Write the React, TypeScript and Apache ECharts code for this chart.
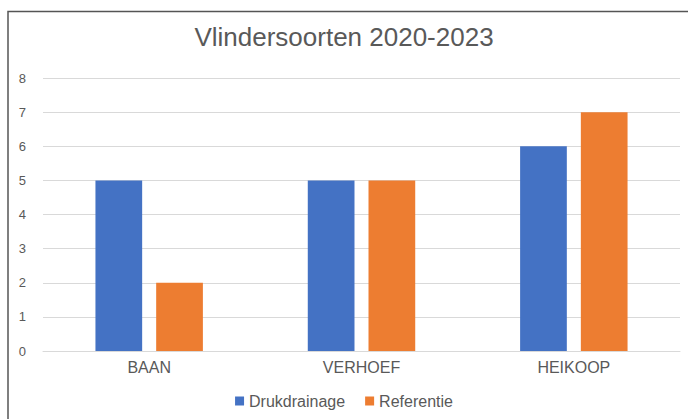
import React, { useEffect, useRef } from "react";
import * as echarts from "echarts";

const titleText = "Vlindersoorten 2020-2023";
const categories = ["BAAN", "VERHOEF", "HEIKOOP"];
const seriesNames = ["Drukdrainage", "Referentie"];
const drukdrainage = [5, 5, 6];
const referentie = [2, 5, 7];
const colors = ["#4472C4", "#ED7D31"];

export default function App() {
  const ref = useRef<HTMLDivElement>(null);
  useEffect(() => {
    if (!ref.current) return;
    const chart = echarts.init(ref.current, undefined, { renderer: "svg" });
    const font = "'Liberation Sans', Arial, sans-serif";
    chart.setOption({
      animation: false,
      backgroundColor: "#ffffff",
      textStyle: { fontFamily: font },
      title: {
        text: titleText,
        left: "center",
        top: 19,
        textStyle: { fontSize: 26, fontWeight: "normal", color: "#595959", fontFamily: font },
      },
      graphic: [
        {
          type: "rect",
          shape: { x: 8, y: 11.5, width: 720, height: 500 },
          style: { fill: "none", stroke: "#555555", lineWidth: 1.5 },
          silent: true,
        },
      ],
      legend: {
        data: seriesNames,
        bottom: 5,
        left: "center",
        itemWidth: 9,
        itemHeight: 9,
        itemGap: 20,
        icon: "rect",
        textStyle: { fontSize: 16, color: "#595959", fontFamily: font },
      },
      grid: { left: 43, right: 8, top: 78, bottom: 68, containLabel: false },
      xAxis: {
        type: "category",
        data: categories,
        axisLine: { lineStyle: { color: "#D9D9D9", width: 1 } },
        axisTick: { show: false },
        axisLabel: { fontSize: 16, color: "#595959", margin: 8, fontFamily: font },
      },
      yAxis: {
        type: "value",
        min: 0,
        max: 8,
        interval: 1,
        axisLine: { show: false },
        axisTick: { show: false },
        splitLine: { lineStyle: { color: "#D9D9D9", width: 1 } },
        axisLabel: { fontSize: 13, color: "#595959", margin: 17, fontFamily: font },
      },
      series: [
        {
          name: seriesNames[0],
          type: "bar",
          data: drukdrainage,
          itemStyle: { color: colors[0] },
          barWidth: "22%",
          barGap: "30%",
        },
        {
          name: seriesNames[1],
          type: "bar",
          data: referentie,
          itemStyle: { color: colors[1] },
          barWidth: "22%",
          barGap: "30%",
        },
      ],
    });
    return () => chart.dispose();
  }, []);
  return (
    <div
      ref={ref}
      style={{ position: "absolute", left: 0, top: 0, width: 688, height: 419 }}
    />
  );
}
